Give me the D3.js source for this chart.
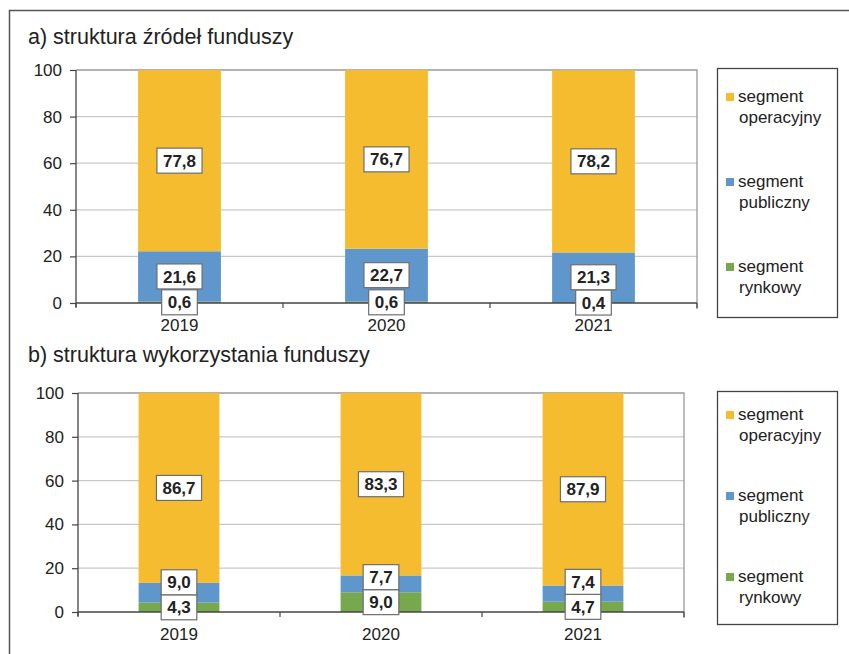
<!DOCTYPE html>
<html>
<head>
<meta charset="utf-8">
<script src="https://cdn.jsdelivr.net/npm/d3@7"></script>
<style>
  body { margin: 0; background: #fff; }
  svg { display: block; font-family: "Liberation Sans", Arial, sans-serif; }
</style>
</head>
<body>
<svg id="chart" width="849" height="654"></svg>
<script>
// data
var years = ["2019", "2020", "2021"];
var segmentKeys = ["rynkowy", "publiczny", "operacyjny"];
var legendLines = {
    operacyjny: ["segment", "operacyjny"],
    publiczny: ["segment", "publiczny"],
    rynkowy: ["segment", "rynkowy"]
};
var yTicks = [0, 20, 40, 60, 80, 100];

// a) sources of funds
var zrodlaRynkowy = [0.6, 0.6, 0.4];
var zrodlaPubliczny = [21.6, 22.7, 21.3];
var zrodlaOperacyjny = [77.8, 76.7, 78.2];

// b) use of funds
var wykRynkowy = [4.3, 9.0, 4.7];
var wykPubliczny = [9.0, 7.7, 7.4];
var wykOperacyjny = [86.7, 83.3, 87.9];

var colors = {
    operacyjny: "#f4bc2e",
    publiczny: "#5f96cb",
    rynkowy: "#78a84d"
};

var textColor = "#222";
var svg = d3.select("#chart");

// outer frame, runs off the right and bottom edge like the source
svg.append("rect")
    .attr("x", 9.5).attr("y", 10.5)
    .attr("width", 900).attr("height", 700)
    .attr("fill", "none")
    .attr("stroke", "#555")
    .attr("stroke-width", 1.5);

var fmt = function(v) { return d3.format(".1f")(v).replace(".", ","); };

function buildRows(ryn, pub, op) {
    return years.map(function(y, i) {
        return {year: y, rynkowy: ryn[i], publiczny: pub[i], operacyjny: op[i]};
    });
}

function drawPanel(p) {
    var x = d3.scaleBand()
        .domain(years)
        .range([p.left, p.right])
        .paddingInner(0.6)
        .paddingOuter(0.3);
    var y = d3.scaleLinear()
        .domain([0, 100])
        .range([p.bottom, p.top]);

    var g = svg.append("g");

    g.append("text")
        .attr("x", 28).attr("y", p.titleY)
        .attr("font-size", 21.5)
        .attr("fill", textColor)
        .text(p.title);

    // grid
    g.append("g").selectAll("line")
        .data(yTicks.filter(function(d) { return d > 0 && d < 100; }))
        .join("line")
        .attr("x1", p.left).attr("x2", p.right)
        .attr("y1", function(d) { return y(d); })
        .attr("y2", function(d) { return y(d); })
        .attr("stroke", "#c8c8c8")
        .attr("stroke-width", 1.2);

    // plot area border top / right
    g.append("path")
        .attr("d", "M" + p.left + "," + y(100) + "H" + p.right + "V" + (p.bottom + 6))
        .attr("fill", "none")
        .attr("stroke", "#9a9a9a")
        .attr("stroke-width", 1.3);

    var stack = d3.stack().keys(segmentKeys);
    var series = stack(p.rows);

    g.append("g").selectAll("g")
        .data(series)
        .join("g")
        .attr("fill", function(s) { return colors[s.key]; })
        .selectAll("rect")
        .data(function(s) { return s; })
        .join("rect")
        .attr("x", function(d) { return x(d.data.year); })
        .attr("width", x.bandwidth())
        .attr("y", function(d) { return y(d[1]); })
        .attr("height", function(d) { return y(d[0]) - y(d[1]); });

    // y axis
    var yAxis = d3.axisLeft(y).tickValues(yTicks).tickSize(6).tickPadding(8);
    var ya = g.append("g")
        .attr("transform", "translate(" + p.left + ",0)")
        .call(yAxis);
    ya.select(".domain").attr("stroke", "#444").attr("stroke-width", 1.3)
        .attr("d", "M0," + (y(100)) + "V" + (p.bottom + 4));
    ya.selectAll(".tick line").attr("stroke", "#444").attr("stroke-width", 1.2);
    ya.selectAll(".tick text")
        .attr("font-size", 17)
        .attr("fill", textColor)
        .attr("font-family", "Liberation Sans, Arial, sans-serif");

    // x axis with ticks between categories
    var step = x.step();
    var bounds = d3.range(0, years.length + 1).map(function(i) { return p.left + i * step; });
    g.append("line")
        .attr("x1", p.left).attr("x2", p.right)
        .attr("y1", p.bottom).attr("y2", p.bottom)
        .attr("stroke", "#444").attr("stroke-width", 1.3);
    g.append("g").selectAll("line")
        .data(bounds)
        .join("line")
        .attr("x1", function(d) { return d; }).attr("x2", function(d) { return d; })
        .attr("y1", p.bottom).attr("y2", p.bottom + 5)
        .attr("stroke", "#444").attr("stroke-width", 1.2);
    g.append("g").selectAll("text")
        .data(years)
        .join("text")
        .attr("x", function(d) { return x(d) + x.bandwidth() / 2; })
        .attr("y", p.bottom + 28)
        .attr("text-anchor", "middle")
        .attr("font-size", 17)
        .attr("fill", textColor)
        .text(function(d) { return d; });

    // data labels; lower boxes push the upper ones up when they would overlap
    var boxH = 25;
    var labels = [];
    years.forEach(function(yr, i) {
        var prev = null;
        series.forEach(function(s) {
            var d = s[i];
            var cy = y((d[0] + d[1]) / 2);
            if (prev !== null && cy > prev - boxH) cy = prev - boxH;
            prev = cy;
            labels.push({cx: x(yr) + x.bandwidth() / 2, cy: cy, text: fmt(d.data[s.key])});
        });
    });

    var lg = g.append("g").selectAll("g")
        .data(labels)
        .join("g")
        .attr("transform", function(d) { return "translate(" + d.cx + "," + d.cy + ")"; });
    lg.append("text")
        .attr("text-anchor", "middle")
        .attr("dy", "0.36em")
        .attr("font-size", 17)
        .attr("font-weight", "bold")
        .attr("fill", textColor)
        .text(function(d) { return d.text; });
    lg.each(function() {
        var t = d3.select(this).select("text");
        var w = t.node().getComputedTextLength() + 12;
        d3.select(this).insert("rect", "text")
            .attr("x", -w / 2).attr("y", -boxH / 2)
            .attr("width", w).attr("height", boxH)
            .attr("fill", "#fff")
            .attr("stroke", "#6e6e6e")
            .attr("stroke-width", 1.2);
    });

    // legend
    var lgd = g.append("g");
    lgd.append("rect")
        .attr("x", 717.5).attr("y", p.legTop + 0.5)
        .attr("width", 120).attr("height", p.legBottom - p.legTop)
        .attr("fill", "#fff")
        .attr("stroke", "#444")
        .attr("stroke-width", 1.3);
    var items = lgd.selectAll("g.item")
        .data(segmentKeys.slice().reverse())
        .join("g")
        .attr("class", "item")
        .attr("transform", function(d, i) { return "translate(726," + p.legY[i] + ")"; });
    items.append("rect")
        .attr("x", 0).attr("y", -4)
        .attr("width", 8).attr("height", 8)
        .attr("fill", function(d) { return colors[d]; });
    items.append("text")
        .attr("x", 12)
        .attr("font-size", 17)
        .attr("fill", textColor)
        .selectAll("tspan")
        .data(function(d) { return legendLines[d]; })
        .join("tspan")
        .attr("x", function(d, i) { return i === 0 ? 12 : 13; })
        .attr("y", function(d, i) { return 5 + i * 21; })
        .text(function(d) { return d; });
}

drawPanel({
    title: "a) struktura źródeł funduszy",
    titleY: 44,
    left: 76, right: 697, top: 70, bottom: 303,
    rows: buildRows(zrodlaRynkowy, zrodlaPubliczny, zrodlaOperacyjny),
    legTop: 68, legBottom: 317,
    legY: [97, 182, 267]
});

drawPanel({
    title: "b) struktura wykorzystania funduszy",
    titleY: 362,
    left: 78, right: 684, top: 393, bottom: 612,
    rows: buildRows(wykRynkowy, wykPubliczny, wykOperacyjny),
    legTop: 391, legBottom: 624,
    legY: [415, 496, 577]
});
</script>
</body>
</html>
